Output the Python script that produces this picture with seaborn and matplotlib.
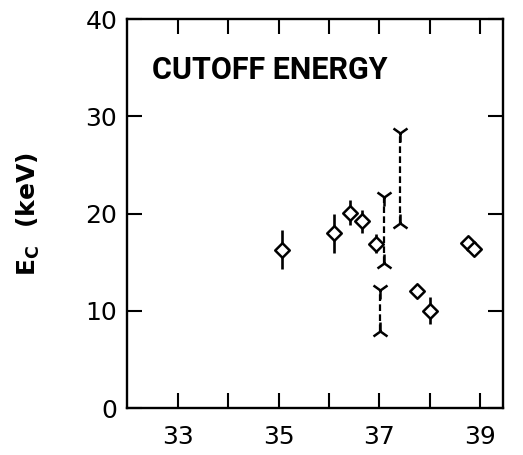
import matplotlib
matplotlib.use("Agg")
import matplotlib.pyplot as plt
import seaborn as sns
import pandas as pd

# Diamond points with symmetric error bars
pt_x = [35.07, 36.10, 36.42, 36.65, 36.93, 37.75, 38.00, 38.76, 38.87]
pt_y = [16.3, 18.0, 20.1, 19.2, 16.9, 12.0, 10.0, 17.0, 16.4]
pt_err = [2.0, 2.0, 1.3, 1.15, 1.0, 0.0, 1.4, 0.0, 0.0]

# Dashed ranges (lower / upper limits)
rng_x = [37.01, 37.08, 37.40]
rng_lo = [7.9, 14.9, 19.0]
rng_hi = [12.1, 21.7, 28.3]

x_ticks = [33, 34, 35, 36, 37, 38, 39]
x_labels = ["33", "", "35", "", "37", "", "39"]
y_ticks = [0, 10, 20, 30, 40]

sns.set_theme(style="ticks")
plt.rcParams['font.family'] = ['DejaVu Sans']

fig = plt.figure(figsize=(5.23, 4.55), dpi=100)
ax = fig.add_axes([0.243, 0.103, 0.719, 0.855])

df = pd.DataFrame({"x": pt_x, "y": pt_y, "err": pt_err})

ax.errorbar(df["x"], df["y"], yerr=df["err"], fmt="none", ecolor="black",
            elinewidth=1.9, capsize=0, zorder=2)
sns.scatterplot(data=df, x="x", y="y", marker="D", s=55, facecolor="white",
                edgecolor="black", linewidth=1.8, ax=ax, zorder=3, legend=False)

ax.vlines(rng_x, rng_lo, rng_hi, colors="black", linestyles=(0, (3, 1.5)),
          linewidth=1.6, zorder=2)
ax.plot(rng_x, rng_hi, linestyle="none", marker="1", markersize=13,
        markeredgewidth=1.8, color="black", zorder=3)
ax.plot(rng_x, rng_lo, linestyle="none", marker="2", markersize=13,
        markeredgewidth=1.8, color="black", zorder=3)

ax.set_xlim(32.0, 39.45)
ax.set_ylim(0, 40)
ax.set_xticks(x_ticks)
ax.set_xticklabels(x_labels)
ax.set_yticks(y_ticks)
ax.set_xlabel("")
ax.set_ylabel(r"E$_\mathregular{C}$  (keV)", fontsize=18, fontweight="bold",
              labelpad=31, color="black")

ax.tick_params(axis="both", which="both", direction="in", length=11, width=1.5,
               top=True, right=True, labelsize=18, colors="black")
ax.tick_params(axis="x", pad=12)
ax.tick_params(axis="y", pad=7)
for s in ax.spines.values():
    s.set_linewidth(1.7)
    s.set_color("black")

ax.text(0.067, 0.868, "CUTOFF ENERGY", transform=ax.transAxes, fontsize=22,
        fontweight="bold", family=["Roboto", "DejaVu Sans"],
        ha="left", va="center", color="black")

fig.savefig("out.png", dpi=100)
